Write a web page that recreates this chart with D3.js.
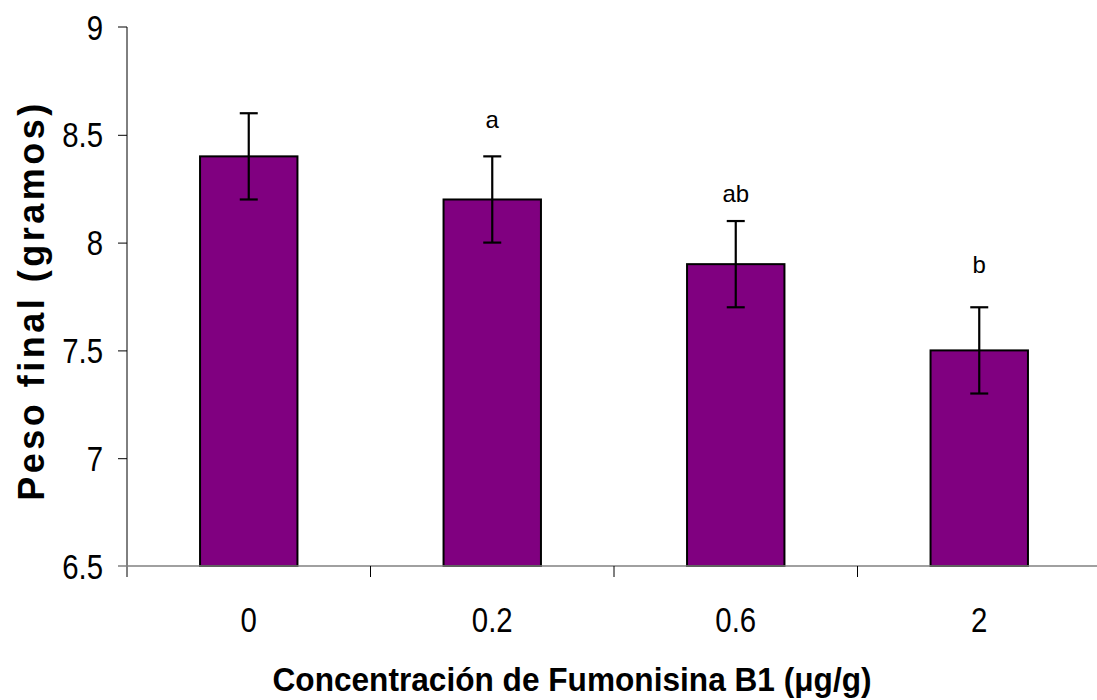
<!DOCTYPE html>
<html>
<head>
<meta charset="utf-8">
<script src="https://cdn.jsdelivr.net/npm/d3@7"></script>
<style>
  body { margin: 0; background: #fff; }
  svg { display: block; font-family: "Liberation Sans", Arial, sans-serif; }
</style>
</head>
<body>
<svg id="chart" width="1097" height="700"></svg>
<script>
// data
const categories = ["0", "0.2", "0.6", "2"];
const means = [8.4, 8.2, 7.9, 7.5];
const errors = [0.2, 0.2, 0.2, 0.2];
const letters = ["", "a", "ab", "b"];
const letterAt = [null, 8.53, 8.19, 7.86];
const yTicks = [6.5, 7, 7.5, 8, 8.5, 9];

const margin = { top: 27, right: -4, bottom: 134, left: 127 };
const width = 1097 - margin.left - margin.right;
const height = 700 - margin.top - margin.bottom;
const sx = 0.84; // source text looks horizontally squeezed

const svg = d3.select("#chart");
const g = svg.append("g").attr("transform", `translate(${margin.left},${margin.top})`);

const x = d3.scaleBand().domain(categories).range([0, width]).paddingInner(0.6).paddingOuter(0.3);
const y = d3.scaleLinear().domain([6.5, 9]).range([height, 0]);

// y axis
const yAxis = g.append("g").call(d3.axisLeft(y).tickValues(yTicks).tickSize(9).tickFormat(d3.format("")));
yAxis.select(".domain").attr("d", `M-9,0H0V${height + 11}`).attr("stroke", "#000");
yAxis.selectAll(".tick line").attr("stroke", "#000");
yAxis.selectAll(".tick").filter(d => d === 6.5 || d === 9).select("line").remove();
yAxis.selectAll(".tick text")
  .attr("x", null).attr("dy", null)
  .attr("transform", `translate(-24,12) scale(${sx},1)`)
  .attr("font-size", 35)
  .attr("font-family", "Liberation Sans, Arial, sans-serif")
  .attr("fill", "#000");

// bars
g.selectAll("rect.bar")
  .data(means)
  .join("rect")
  .attr("class", "bar")
  .attr("x", (d, i) => x(categories[i]))
  .attr("y", d => y(d))
  .attr("width", x.bandwidth())
  .attr("height", d => height - y(d))
  .attr("fill", "#800080")
  .attr("stroke", "#000")
  .attr("stroke-width", 2);

// x axis (grey baseline, ticks between categories)
g.append("line")
  .attr("x1", -9).attr("x2", width)
  .attr("y1", height).attr("y2", height)
  .attr("stroke", "#808080").attr("stroke-width", 1.5);
g.selectAll("line.xtick")
  .data(categories.slice(1))
  .join("line")
  .attr("class", "xtick")
  .attr("x1", d => x(d) - x.step() * x.paddingInner() / 2)
  .attr("x2", d => x(d) - x.step() * x.paddingInner() / 2)
  .attr("y1", height).attr("y2", height + 11)
  .attr("stroke", "#000");
g.selectAll("text.xlab")
  .data(categories)
  .join("text")
  .attr("class", "xlab")
  .attr("transform", d => `translate(${x(d) + x.bandwidth() / 2},${height + 66}) scale(${sx},1)`)
  .attr("text-anchor", "middle")
  .attr("font-size", 35)
  .text(d => d);

// error bars
const capW = 9;
const eb = g.selectAll("g.err").data(means).join("g").attr("class", "err");
eb.each(function (d, i) {
  const cx = x(categories[i]) + x.bandwidth() / 2;
  const sel = d3.select(this);
  sel.append("line")
    .attr("x1", cx).attr("x2", cx)
    .attr("y1", y(d + errors[i])).attr("y2", y(d - errors[i]));
  [d + errors[i], d - errors[i]].forEach(v => {
    sel.append("line")
      .attr("x1", cx - capW).attr("x2", cx + capW)
      .attr("y1", y(v)).attr("y2", y(v));
  });
});
eb.selectAll("line").attr("stroke", "#000").attr("stroke-width", 2.2);

// significance letters
g.selectAll("text.letter")
  .data(letters)
  .join("text")
  .attr("class", "letter")
  .attr("x", (d, i) => x(categories[i]) + x.bandwidth() / 2)
  .attr("y", (d, i) => letterAt[i] == null ? 0 : y(letterAt[i]))
  .attr("text-anchor", "middle")
  .attr("font-size", 24)
  .text(d => d);

// axis titles
svg.append("text")
  .attr("transform", `translate(${margin.left + width / 2 - 42},691) scale(0.93,1)`)
  .attr("text-anchor", "middle")
  .attr("font-size", 34)
  .attr("font-weight", "bold")
  .text("Concentración de Fumonisina B1 (μg/g)");

svg.append("text")
  .attr("transform", `translate(44,${margin.top + height / 2 + 4}) rotate(-90)`)
  .attr("text-anchor", "middle")
  .attr("font-size", 36)
  .attr("font-weight", "bold")
  .attr("letter-spacing", 3.5)
  .text("Peso final (gramos)");
</script>
</body>
</html>
